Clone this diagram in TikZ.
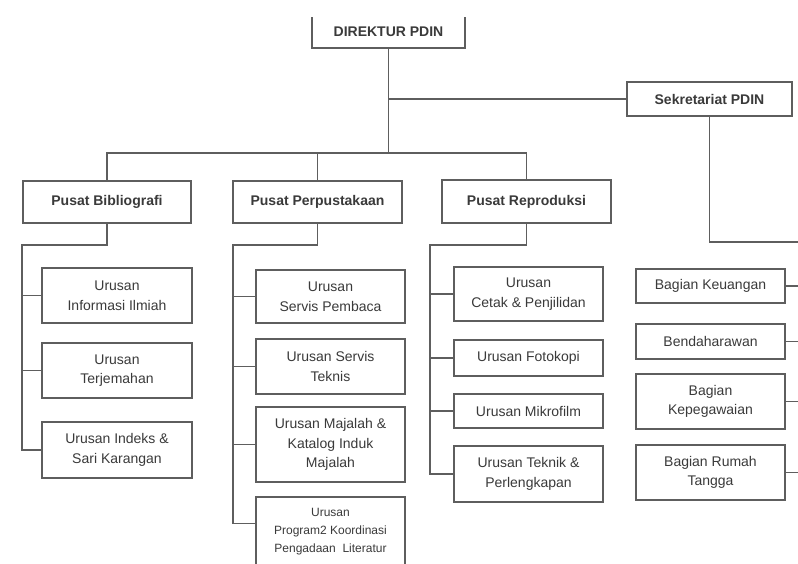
\documentclass[tikz,border=0pt]{standalone}
\usepackage{fontspec}
\setmainfont{Liberation Sans}
\definecolor{garisabu}{HTML}{5E5E5E}
\definecolor{teksabu}{HTML}{3A3A3A}
\tikzset{
  kotak/.style={draw=garisabu, line width=1.4pt, fill=white, inner sep=0pt,
    align=center, text=teksabu, font=\fontsize{14}{19.5}\selectfont},
  kepala/.style={kotak, font=\fontsize{14}{19.5}\selectfont\bfseries},
  garis/.style={draw=garisabu, line width=1.4pt}
}
\begin{document}
\begin{tikzpicture}[x=1pt, y=-1pt]
    \useasboundingbox (0,0) rectangle (798,563);
    \fill[white] (0,0) rectangle (798,563);
    \begin{scope}
    \clip (0,17) rectangle (798,563);

    % pimpinan
    \node[kepala, minimum width=153pt, minimum height=32pt] (dir) at (388.5,32) {DIREKTUR PDIN};
    \node[kepala, minimum width=165pt, minimum height=34pt] (sek) at (709.5,99) {Sekretariat PDIN};

    % pusat
    \node[kepala, minimum width=168pt, minimum height=42pt] (bib) at (107,202) {Pusat Bibliografi};
    \node[kepala, minimum width=169pt, minimum height=42pt] (pus) at (317.5,202) {Pusat Perpustakaan};
    \node[kepala, minimum width=169pt, minimum height=43pt] (rep) at (526.5,201.5) {Pusat Reproduksi};

    % urusan pusat bibliografi
    \node[kotak, minimum width=150pt, minimum height=55pt] (b1) at (117,295.5) {Urusan\\Informasi Ilmiah};
    \node[kotak, minimum width=150pt, minimum height=55pt] (b2) at (117,370.5) {Urusan\\Terjemahan};
    \node[kotak, minimum width=150pt, minimum height=56pt] (b3) at (117,450) {Urusan Indeks \&\\Sari Karangan};

    % urusan pusat perpustakaan
    \node[kotak, minimum width=149pt, minimum height=53pt] (p1) at (330.5,296.5) {Urusan\\Servis Pembaca};
    \node[kotak, minimum width=149pt, minimum height=55pt] (p2) at (330.5,366.5) {Urusan Servis\\Teknis};
    \node[kotak, minimum width=149pt, minimum height=75pt] (p3) at (330.5,444.5) {Urusan Majalah \&\\Katalog Induk\\Majalah};
    \node[kotak, minimum width=149pt, minimum height=70pt, font=\fontsize{12}{18}\selectfont] (p4) at (330.5,532)
      {Urusan\\Program2 Koordinasi\\Pengadaan~~Literatur};

    % urusan pusat reproduksi
    \node[kotak, minimum width=149pt, minimum height=54pt] (r1) at (528.5,294) {Urusan\\Cetak \& Penjilidan};
    \node[kotak, minimum width=149pt, minimum height=36pt] (r2) at (528.5,358) {Urusan Fotokopi};
    \node[kotak, minimum width=149pt, minimum height=34pt] (r3) at (528.5,411) {Urusan Mikrofilm};
    \node[kotak, minimum width=149pt, minimum height=56pt] (r4) at (528.5,474) {Urusan Teknik \&\\Perlengkapan};

    % bagian sekretariat
    \node[kotak, minimum width=149pt, minimum height=34pt] (s1) at (710.5,286) {Bagian Keuangan};
    \node[kotak, minimum width=149pt, minimum height=35pt] (s2) at (710.5,341.5) {Bendaharawan};
    \node[kotak, minimum width=149pt, minimum height=55pt] (s3) at (710.5,401.5) {Bagian\\Kepegawaian};
    \node[kotak, minimum width=149pt, minimum height=55pt] (s4) at (710.5,472.5) {Bagian Rumah\\Tangga};

    % titik bantu garis
    \coordinate (bus) at (0,153);
    \coordinate (bibtrunk) at (22,245);
    \coordinate (pustrunk) at (233,245);
    \coordinate (reptrunk) at (430,245);
    \coordinate (sektrunk) at (802,242);

    % garis pimpinan
    \draw[garis] (dir.south) -- (dir.south |- bus);
    \draw[garis] (sek.west) -- (sek.west -| dir.south);
    \draw[garis] (bib.north) |- (rep.north |- bus) -- (rep.north);
    \draw[garis] (pus.north) -- (pus.north |- bus);

    % garis urusan
    \draw[garis] (bib.south) |- (bibtrunk) |- (b3.west);
    \foreach \n in {b1,b2}
        \draw[garis] (\n.west) -- (\n.west -| bibtrunk);
    \draw[garis] (pus.south) |- (pustrunk) |- ([yshift=-27pt]p4.north west);
    \foreach \n in {p1,p2,p3}
        \draw[garis] (\n.west) -- (\n.west -| pustrunk);
    \draw[garis] (rep.south) |- (reptrunk) |- (r4.west);
    \foreach \n in {r1,r2,r3}
        \draw[garis] (\n.west) -- (\n.west -| reptrunk);

    % garis bagian
    \draw[garis] (sek.south) |- (sektrunk) -- (sektrunk |- s4.east);
    \foreach \n in {s1,s2,s3,s4}
        \draw[garis] (\n.east) -- (\n.east -| sektrunk);
    \end{scope}
\end{tikzpicture}
\end{document}
